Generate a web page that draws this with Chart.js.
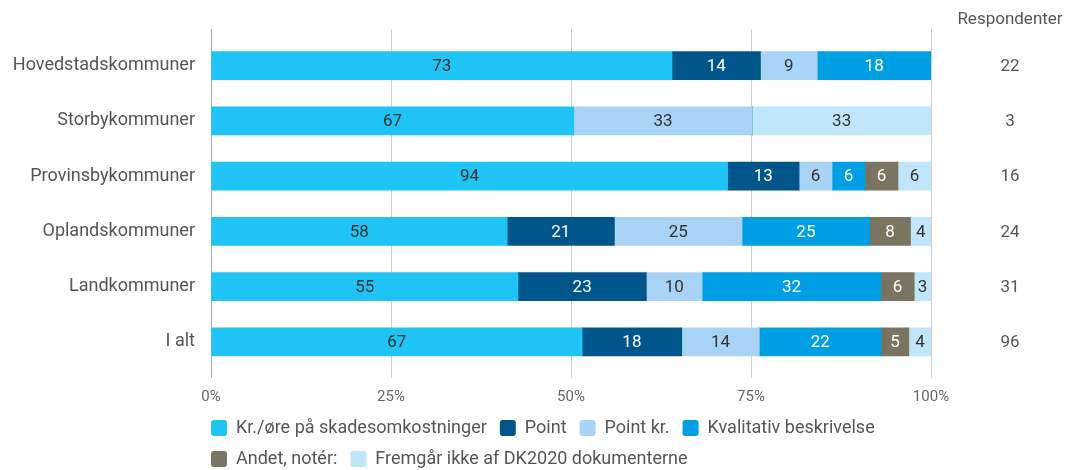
<!DOCTYPE html>
<html>
<head>
<meta charset="utf-8">
<script src="https://cdn.jsdelivr.net/npm/chart.js@4"></script>
<style>
  html, body { margin: 0; padding: 0; background: #fff; }
  #wrap { width: 1074px; height: 470px; }
</style>
</head>
<body>
<div id="wrap"><canvas id="kommuneChart"></canvas></div>
<script>
const categories = ['Hovedstadskommuner', 'Storbykommuner', 'Provinsbykommuner', 'Oplandskommuner', 'Landkommuner', 'I alt'];
const seriesNames = ['Kr./øre på skadesomkostninger', 'Point', 'Point kr.', 'Kvalitativ beskrivelse', 'Andet, notér:', 'Fremgår ikke af DK2020 dokumenterne'];
const krOere = [73, 67, 94, 58, 55, 67];
const point = [14, 0, 13, 21, 23, 18];
const pointKr = [9, 33, 6, 25, 10, 14];
const kvalitativ = [18, 0, 6, 25, 32, 22];
const andet = [0, 0, 6, 8, 6, 5];
const fremgaar = [0, 33, 6, 4, 3, 4];
const respondenter = [22, 3, 16, 24, 31, 96];
const xTicks = [0, 25, 50, 75, 100];

const seriesValues = [krOere, point, pointKr, kvalitativ, andet, fremgaar];
const colors = ['#20c4f4', '#00558a', '#a9d3f5', '#009fe3', '#7a7560', '#bfe6fb'];
const labelColors = ['#333', '#fff', '#333', '#fff', '#fff', '#333'];

const rowTotals = categories.map((c, i) => seriesValues.reduce((s, arr) => s + arr[i], 0));

const datasets = seriesValues.map((vals, k) => ({
    label: seriesNames[k],
    data: vals.map((v, i) => v / rowTotals[i] * 100),
    raw: vals,
    backgroundColor: colors[k],
    borderWidth: 0,
    barThickness: 28
}));

// value labels inside the bars + respondent column on the right
const barLabels = {
    id: 'barLabels',
    afterDatasetsDraw(chart) {
        const ctx = chart.ctx;
        ctx.save();
        ctx.font = '17px Roboto';
        ctx.textAlign = 'center';
        ctx.textBaseline = 'middle';
        chart.data.datasets.forEach((ds, k) => {
            const meta = chart.getDatasetMeta(k);
            meta.data.forEach((bar, i) => {
                const v = ds.raw[i];
                if (!v) return;
                ctx.fillStyle = labelColors[k];
                ctx.fillText(String(v), (bar.x + bar.base) / 2, bar.y + 1);
            });
        });
        const y = chart.scales.y;
        const cx = chart.chartArea.right + 79;
        ctx.fillStyle = '#555';
        ctx.fillText('Respondenter', cx, 20);
        respondenter.forEach((n, i) => {
            ctx.fillText(String(n), cx, y.getPixelForValue(i) + 1);
        });
        ctx.restore();
    }
};

// gridlines reach a bit above the first bar
const gridTop = {
    id: 'gridTop',
    beforeDatasetsDraw(chart) {
        const ctx = chart.ctx;
        const x = chart.scales.x;
        const top = chart.chartArea.top;
        ctx.save();
        ctx.lineWidth = 1;
        x.ticks.forEach(t => {
            const px = Math.round(x.getPixelForValue(t.value)) + 0.5;
            ctx.strokeStyle = t.value === 0 ? '#a8a8a8' : '#cfcfcf';
            ctx.beginPath();
            ctx.moveTo(px, top - 9);
            ctx.lineTo(px, top);
            ctx.stroke();
        });
        ctx.restore();
    }
};

// put the legend under the plot, lined up with its left edge
const legendPad = 13;
const legendShift = {
    id: 'legendShift',
    afterLayout(chart) {
        const lg = chart.legend;
        if (!lg) return;
        const h = lg.bottom - lg.top;
        const w = lg.right - lg.left;
        lg.left = chart.chartArea.left - legendPad;
        lg.right = lg.left + w;
        lg.top = 406;
        lg.bottom = lg.top + h;
    }
};

new Chart(document.getElementById('kommuneChart'), {
    type: 'bar',
    data: { labels: categories, datasets: datasets },
    options: {
        indexAxis: 'y',
        responsive: true,
        maintainAspectRatio: false,
        animation: false,
        layout: { padding: { top: 38, right: 143, left: 0, bottom: -16.5 } },
        scales: {
            x: {
                stacked: true,
                min: 0,
                max: 100,
                afterBuildTicks(scale) {
                    scale.ticks = xTicks.map(v => ({ value: v }));
                },
                afterFit(scale) { scale.height = 45; },
                border: { display: false },
                grid: {
                    color: c => c.tick && c.tick.value === 0 ? '#a8a8a8' : '#cfcfcf',
                    tickLength: 8
                },
                ticks: {
                    padding: 11,
                    color: '#666',
                    font: { family: 'Roboto', size: 15 },
                    callback: v => v + '%'
                }
            },
            y: {
                stacked: true,
                afterFit(scale) { scale.width = 211; },
                border: { display: false },
                grid: { display: false, drawTicks: false },
                ticks: {
                    padding: 16,
                    color: '#555',
                    font: { family: 'Roboto', size: 18 }
                }
            }
        },
        plugins: {
            tooltip: { enabled: false },
            legend: {
                position: 'bottom',
                align: 'start',
                fullSize: false,
                labels: {
                    boxWidth: 16,
                    boxHeight: 16,
                    useBorderRadius: true,
                    borderRadius: 3,
                    padding: legendPad,
                    color: '#555',
                    font: { family: 'Roboto', size: 18 }
                }
            }
        }
    },
    plugins: [gridTop, barLabels, legendShift]
});
</script>
</body>
</html>
